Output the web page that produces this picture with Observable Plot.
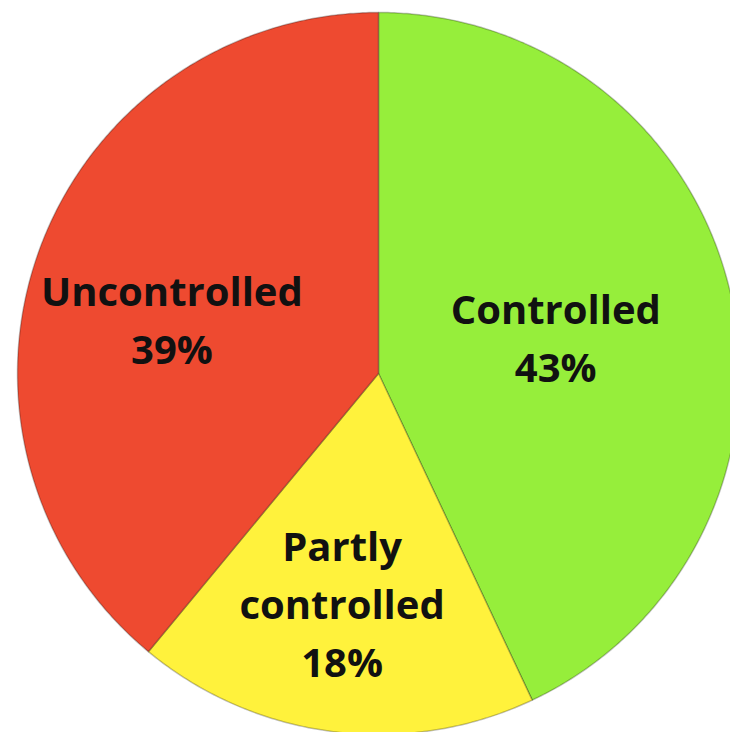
<!DOCTYPE html>
<html>
<head>
<meta charset="utf-8">
<script src="https://cdn.jsdelivr.net/npm/d3@7"></script>
<script src="https://cdn.jsdelivr.net/npm/@observablehq/plot@0.6"></script>
<style>
  html, body { margin: 0; padding: 0; background: #ffffff; }
  #chart svg { display: block; }
</style>
</head>
<body>
<div id="chart"></div>
<script>
// Asthma control status, share of patients
const categories = ["Controlled", "Partly controlled", "Uncontrolled"];
const shares = [43, 18, 39];
const labelNames = ["Controlled", "Partly\ncontrolled", "Uncontrolled"];
const sliceColors = ["#96ee3b", "#fff23c", "#ee4a30"];

// Radial placement of each label, as a fraction of the pie radius
const labelRadius = {"Controlled": 0.5, "Partly controlled": 0.65, "Uncontrolled": 0.59};
const labelTurn = {"Controlled": 0.03, "Partly controlled": 0.03, "Uncontrolled": -0.10};

const rows = categories.map((c, i) => ({category: c, share: shares[i], name: labelNames[i]}));

// Clockwise from 12 o'clock, in input order
const arcs = d3.pie().sort(null).value(d => d.share)(rows);

// Each slice becomes a closed polygon in unit coordinates (y up)
const outline = [];
for (const a of arcs) {
  const cat = a.data.category;
  outline.push({category: cat, x: 0, y: 0});
  const steps = Math.max(2, Math.ceil((a.endAngle - a.startAngle) / (Math.PI / 360)));
  for (let k = 0; k <= steps; k++) {
    const t = a.startAngle + (a.endAngle - a.startAngle) * k / steps;
    outline.push({category: cat, x: Math.sin(t), y: Math.cos(t)});
  }
}

const labels = arcs.map(a => {
  const cat = a.data.category;
  const mid = (a.startAngle + a.endAngle) / 2 + labelTurn[cat];
  const r = labelRadius[cat];
  return {x: r * Math.sin(mid), y: r * Math.cos(mid), text: `${a.data.name}\n${a.data.share}%`};
});

const chart = Plot.plot({
  width: 730,
  height: 732,
  margin: 0,
  x: {domain: [-1, 1], range: [17, 739], axis: null},
  y: {domain: [-1, 1], range: [734, 12], axis: null},
  color: {domain: categories, range: sliceColors},
  marks: [
    Plot.line(outline, {
      x: "x", y: "y", z: "category",
      fill: "category",
      stroke: "#000", strokeOpacity: 0.25, strokeWidth: 1.5,
      curve: "linear-closed"
    }),
    Plot.text(labels, {
      x: "x", y: "y", text: "text",
      dy: -5,
      fontFamily: "'Open Sans', sans-serif",
      fontWeight: "bold",
      fontSize: 40,
      lineHeight: 1.45,
      fill: "#111111"
    })
  ]
});

document.getElementById("chart").appendChild(chart);
</script>
</body>
</html>
